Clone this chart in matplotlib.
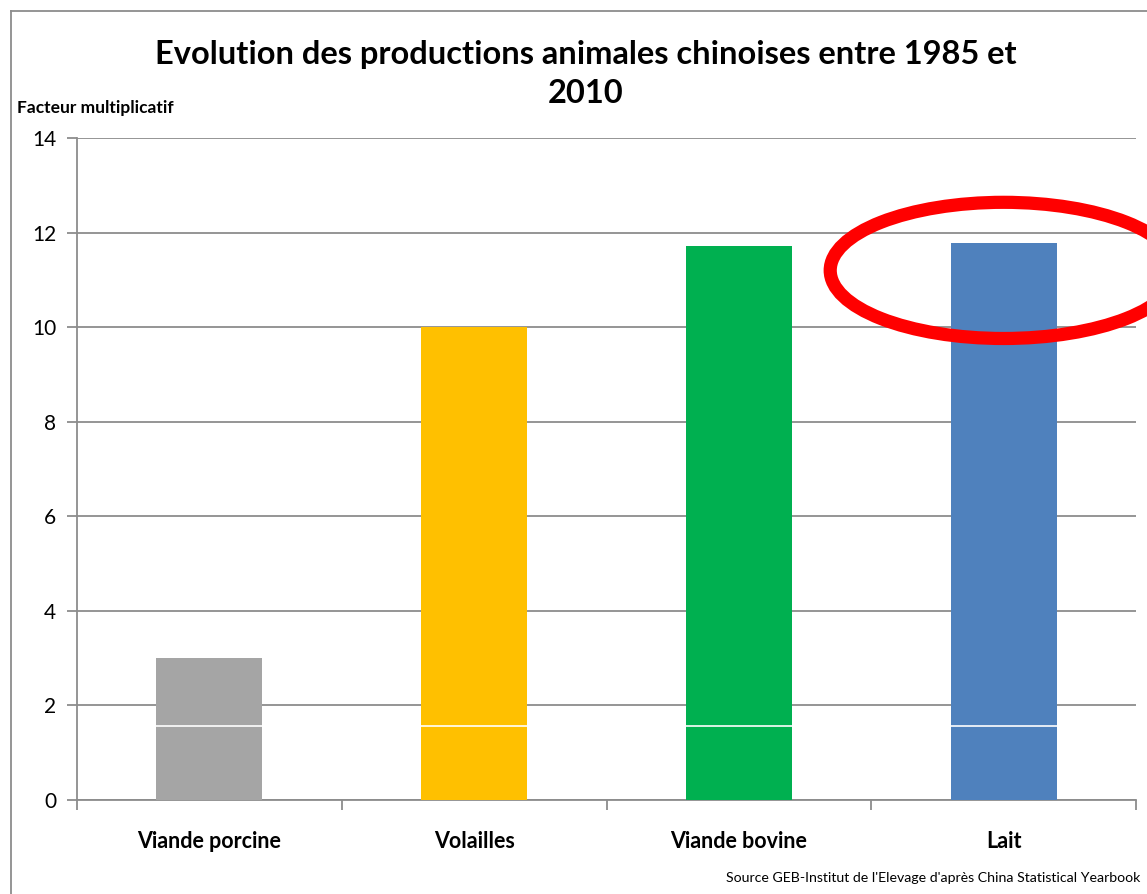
#!/usr/bin/env python3
import matplotlib
matplotlib.use("Agg")
from matplotlib import pyplot as plt
from matplotlib.patches import Ellipse
import numpy as np

categories = ["Viande porcine", "Volailles", "Viande bovine", "Lait"]
totals = [3.0, 10.0, 11.72, 11.78]
lower_part = [1.56, 1.56, 1.56, 1.56]
colors = ["#a5a5a5", "#ffc000", "#00b050", "#4f81bd"]
yticks = [0, 2, 4, 6, 8, 10, 12, 14]

plt.rcParams["font.family"] = ["Lato", "DejaVu Sans"]

fig = plt.figure(figsize=(11.47, 8.94), dpi=100)
ax = fig.add_axes([77 / 1147, 94 / 894, 1059 / 1147, 662 / 894])

x = np.arange(len(categories))
bar_w = 0.4
upper_part = [t - l for t, l in zip(totals, lower_part)]
ax.bar(x, lower_part, width=bar_w, color=colors, linewidth=0, zorder=3)
ax.bar(x, upper_part, width=bar_w, bottom=lower_part, color=colors, linewidth=0, zorder=3)
# thin white split between the two parts
ax.hlines(lower_part, x - bar_w / 2, x + bar_w / 2, colors="white", linewidth=1.2, zorder=4)

ax.set_xlim(-0.5, len(categories) - 0.5)
ax.set_ylim(0, 14)
ax.set_yticks(yticks)
ax.set_yticklabels([str(v) for v in yticks], fontsize=15)
ax.yaxis.grid(True, color="#8c8c8c", linewidth=1.3, zorder=0)

ax.set_xticks(np.arange(len(categories) + 1) - 0.5)
ax.set_xticklabels([])
ax.set_xticks(x, minor=True)
ax.set_xticklabels(categories, minor=True, fontsize=15.5, fontweight="bold")
ax.tick_params(axis="x", which="minor", length=0, pad=22)
ax.tick_params(axis="x", which="major", length=7, color="#8c8c8c", width=1.3)
ax.tick_params(axis="y", length=7, color="#8c8c8c", width=1.3, pad=8)

for side in ["top", "right"]:
    ax.spines[side].set_visible(False)
for side in ["left", "bottom"]:
    ax.spines[side].set_color("#8c8c8c")
    ax.spines[side].set_linewidth(1.3)

# red highlight around the milk bar
ring = Ellipse((3.0, 11.2), 1.31, 2.88, fill=False, edgecolor="#ff0000",
               linewidth=9.5, clip_on=False, zorder=5)
ax.add_patch(ring)

fig.text(0.511, 0.917, "Evolution des productions animales chinoises entre 1985 et\n2010",
         ha="center", va="center", fontsize=23.5, fontweight="bold", linespacing=1.42)
fig.text(0.015, 0.879, "Facteur multiplicatif", fontsize=12.5, fontweight="bold", va="center")
fig.text(0.994, 0.011, "Source GEB-Institut de l'Elevage d'après China Statistical Yearbook",
         ha="right", va="bottom", fontsize=10.2)

# chart frame
bx = 11 / 1147
by = 1 - 11 / 894
fig.add_artist(plt.Line2D([bx, bx], [0, by], color="#8c8c8c", linewidth=1.3))
fig.add_artist(plt.Line2D([bx, 1], [by, by], color="#8c8c8c", linewidth=1.3))

fig.savefig("out.png", dpi=100)
plt.close()
